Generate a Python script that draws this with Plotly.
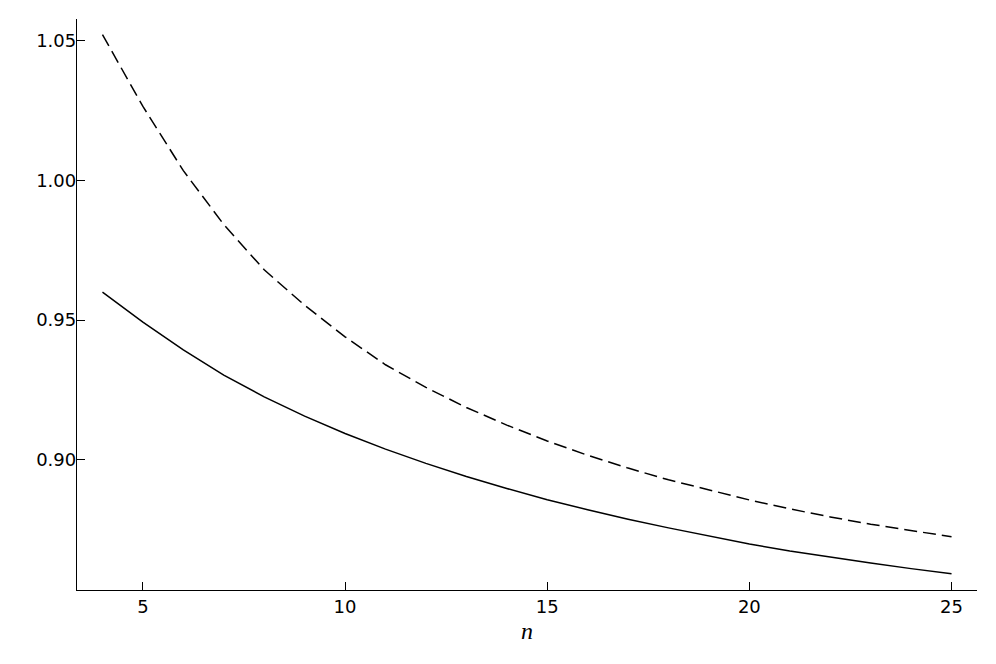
import plotly.graph_objects as go

n_values = list(range(4, 26))
solid_values = [0.9600, 0.9493, 0.9393, 0.9303, 0.9225, 0.9156, 0.9094, 0.9038,
                0.8987, 0.8940, 0.8897, 0.8857, 0.8821, 0.8787, 0.8756, 0.8726,
                0.8698, 0.8673, 0.8651, 0.8630, 0.8610, 0.8592]
dashed_values = [1.0522, 1.0265, 1.0035, 0.9842, 0.9680, 0.9553, 0.9440, 0.9340,
                 0.9259, 0.9187, 0.9124, 0.9067, 0.9016, 0.8970, 0.8928, 0.8891,
                 0.8856, 0.8824, 0.8795, 0.8769, 0.8746, 0.8724]
x_ticks = [5, 10, 15, 20, 25]
y_ticks = [0.90, 0.95, 1.00, 1.05]

fig = go.Figure()
fig.add_trace(go.Scatter(x=n_values, y=solid_values, mode="lines",
                         line=dict(color="black", width=1.5), showlegend=False))
fig.add_trace(go.Scatter(x=n_values, y=dashed_values, mode="lines",
                         line=dict(color="black", width=1.5, dash="13px,6px"), showlegend=False))

font_family = "DejaVu Sans"
fig.update_layout(
    width=996, height=664,
    margin=dict(l=69, r=27, t=11, b=82, autoexpand=False),
    paper_bgcolor="white", plot_bgcolor="white",
    font=dict(family=font_family, size=18, color="black"),
    xaxis=dict(
        range=[3.37, 25.63], tickvals=x_ticks, ticktext=[str(v) for v in x_ticks],
        showgrid=False, zeroline=False, showline=True, linecolor="black", linewidth=1.3,
        ticks="inside", ticklen=8, tickwidth=1.3, tickcolor="black",
        ticklabelstandoff=0, automargin=False,
        title=dict(text="<i>n</i>", font=dict(family="Liberation Serif", size=24), standoff=6),
    ),
    yaxis=dict(
        range=[0.85335, 1.0578], tickvals=y_ticks, ticktext=[f"{v:.2f}" for v in y_ticks],
        showgrid=False, zeroline=False, showline=True, linecolor="black", linewidth=1.3,
        ticks="inside", ticklen=8, tickwidth=1.3, tickcolor="black",
        ticklabelstandoff=-4, automargin=False,
    ),
)
fig.write_html("out.html")
